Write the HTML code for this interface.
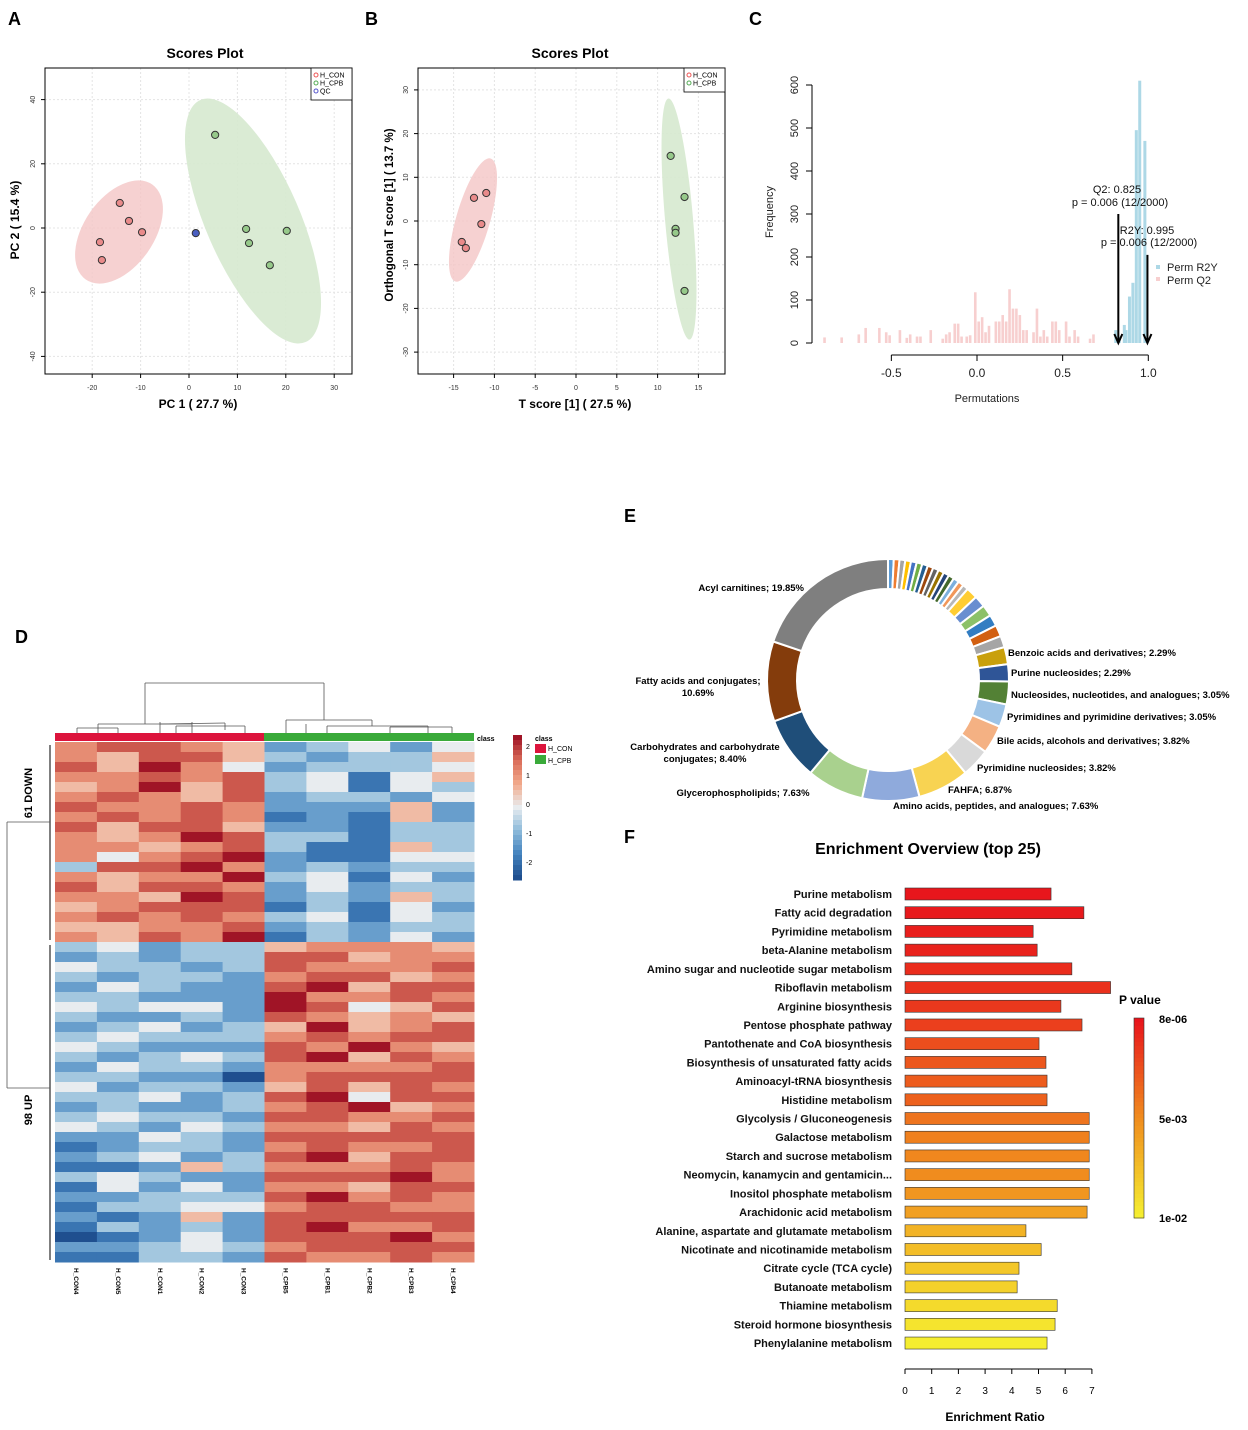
<!DOCTYPE html>
<html><head><meta charset="utf-8"><style>
body{margin:0;background:#fff;}
svg text{font-family:"Liberation Sans",Arial,sans-serif;}
</style></head><body>
<svg id="fig" width="1248" height="1425" viewBox="0 0 1248 1425" xmlns="http://www.w3.org/2000/svg">
<rect width="1248" height="1425" fill="#fff"/>
<g font-weight="bold" font-size="18" fill="#000">
<text x="8" y="25">A</text>
<text x="365" y="25">B</text>
<text x="749" y="25">C</text>
<text x="15" y="643">D</text>
<text x="624" y="522">E</text>
<text x="624" y="843">F</text>
</g>
<g id="pA"></g>
<g id="pB"></g>
<g id="pC"></g>
<g id="pD"></g>
<g id="pE"></g>
<g id="pF"></g>
</svg>
<script>
// ---- Panel A data
const aRedX=[-14.3,-12.4,-9.7,-18.4,-18.0];
const aRedY=[7.8,2.2,-1.3,-4.4,-10.0];
const aGreenX=[5.4,11.8,12.4,16.7,20.2];
const aGreenY=[29,-0.3,-4.7,-11.6,-0.9];
const aQcX=[1.4];
const aQcY=[-1.6];
const aXTicks=[-20,-10,0,10,20,30];
const aYTicks=[40,20,0,-20,-40];
// ---- Panel B data
const bRedX=[-12.5,-11.0,-11.6,-14.0,-13.5];
const bRedY=[5.3,6.4,-0.7,-4.8,-6.2];
const bGreenX=[11.6,13.3,12.2,12.2,13.3];
const bGreenY=[14.9,5.5,-1.8,-2.7,-16.0];
const bXTicks=[-15,-10,-5,0,5,10,15];
const bYTicks=[30,20,10,0,-10,-20,-30];
// ---- Panel C data
const q2Bins=[-0.89,-0.79,-0.69,-0.65,-0.57,-0.53,-0.51,-0.45,-0.41,-0.39,-0.35,-0.33,-0.27,-0.20,-0.18,-0.16,-0.13,-0.11,-0.09,-0.06,-0.04,-0.01,0.01,0.03,0.05,0.07,0.11,0.13,0.15,0.17,0.19,0.21,0.23,0.25,0.27,0.29,0.33,0.35,0.37,0.39,0.41,0.44,0.46,0.48,0.52,0.54,0.57,0.59,0.66,0.68];
const q2Counts=[13,13,20,35,35,25,18,30,12,20,15,15,30,10,20,25,45,45,15,15,18,118,50,60,25,40,50,50,65,50,125,80,80,65,30,30,25,80,15,30,15,50,50,30,50,15,30,15,10,20];
const r2Bins=[0.81,0.83,0.86,0.87,0.89,0.91,0.93,0.95,0.98];
const r2Counts=[30,15,42,30,108,140,495,610,470];
const cXTicks=[-0.5,0.0,0.5,1.0];
const cYTicks=[0,100,200,300,400,500,600];
// ---- Panel D data
const hmCols=["H_CON4","H_CON5","H_CON1","H_CON2","H_CON3","H_CPB5","H_CPB1","H_CPB2","H_CPB3","H_CPB4"];
const hmRows=["6776523424","6577532335","7586423334","6676734145","5685734143","6765723324","7667622252","6767612152","7577522133","6568733133","6656731153","6467821144","3778623233","6566834142","7577624233","6658723253","5677713142","6767634143","5566723233","6576813242",
"3423356665","2323377566","4332376667","3233267756","2432278577","3322286676","4344287457","3223276565","2342358567","3433367677","4322276865","3234378576","2433266667","3322067777","4233257576","3342378477","2322367856","3433277667","4324366576","2243277777","1233267667","2342378577","1125366676","3432277786","1424266577","2233378676","1334467766","2125277777","1323278667","0124277786","2234367777","1133276676"];
// ---- Panel E data
const donutLabels=["s1","s2","s3","s4","s5","s6","s7","s8","s9","s10","s11","s12","s13","s14","s15","s16","s17","s18","s19","s20","s21","Benzoic acids and derivatives; 2.29%","Purine nucleosides; 2.29%","Nucleosides, nucleotides, and analogues; 3.05%","Pyrimidines and pyrimidine derivatives; 3.05%","Bile acids, alcohols and derivatives; 3.82%","Pyrimidine nucleosides; 3.82%","FAHFA; 6.87%","Amino acids, peptides, and analogues; 7.63%","Glycerophospholipids; 7.63%","Carbohydrates and carbohydrate conjugates; 8.40%","Fatty acids and conjugates; 10.69%","Acyl carnitines; 19.85%"];
const donutValues=[0.763,0.763,0.763,0.763,0.763,0.763,0.763,0.763,0.763,0.763,0.763,0.763,0.763,0.763,0.763,1.53,1.53,1.53,1.53,1.53,1.53,2.29,2.29,3.05,3.05,3.82,3.82,6.87,7.63,7.63,8.40,10.69,19.85];
const donutColors=["#5b9bd5","#ed7d31","#a5a5a5","#ffc000","#4472c4","#70ad47","#255e91","#9e480e","#636363","#997300","#264478","#43682b","#7cafdd","#f1975a","#b7b7b7","#ffcd33","#698ed0","#8cc168","#327dc2","#d26012","#a5a5a5","#c9a00c","#2f5597","#538135","#9dc3e6","#f4b183","#d9d9d9","#f8d352","#8faadc","#a9d18e","#1f4e79","#843c0c","#7f7f7f"];
// ---- Panel F data
const pathways=["Purine metabolism","Fatty acid degradation","Pyrimidine metabolism","beta-Alanine metabolism","Amino sugar and nucleotide sugar metabolism","Riboflavin metabolism","Arginine biosynthesis","Pentose phosphate pathway","Pantothenate and CoA biosynthesis","Biosynthesis of unsaturated fatty acids","Aminoacyl-tRNA biosynthesis","Histidine metabolism","Glycolysis / Gluconeogenesis","Galactose metabolism","Starch and sucrose metabolism","Neomycin, kanamycin and gentamicin...","Inositol phosphate metabolism","Arachidonic acid metabolism","Alanine, aspartate and glutamate metabolism","Nicotinate and nicotinamide metabolism","Citrate cycle (TCA cycle)","Butanoate metabolism","Thiamine metabolism","Steroid hormone biosynthesis","Phenylalanine metabolism"];
const ratios=[5.47,6.7,4.8,4.95,6.25,7.7,5.84,6.63,5.02,5.28,5.32,5.32,6.9,6.9,6.9,6.9,6.9,6.82,4.53,5.1,4.27,4.2,5.7,5.62,5.32];
const pvals=[0.0001,0.0002,0.0004,0.0006,0.0010,0.0012,0.0015,0.0018,0.0024,0.0028,0.0030,0.0032,0.0040,0.0045,0.0048,0.0050,0.0055,0.0060,0.0070,0.0075,0.0080,0.0085,0.0090,0.0095,0.0100];
const fXTicks=[0,1,2,3,4,5,6,7];

const NS="http://www.w3.org/2000/svg";
function mk(parent,tag,attrs,txt){const e=document.createElementNS(NS,tag);for(const k in attrs)e.setAttribute(k,attrs[k]);if(txt!==undefined)e.textContent=txt;parent.appendChild(e);return e;}

// ===== Panel A
(function(){
const g=document.getElementById('pA');
const L=45,T=68,R=352,B=374;
const sx=v=>189+v*4.84, sy=v=>228-v*3.21;
let t=mk(g,'text',{x:205,y:58,'text-anchor':'middle','font-size':14,'font-weight':'bold'},'Scores Plot');


aXTicks.forEach(v=>{mk(g,'line',{x1:sx(v),x2:sx(v),y1:T,y2:B,stroke:'#e4e4e4','stroke-dasharray':'2,2'});mk(g,'line',{x1:sx(v),x2:sx(v),y1:B,y2:B+4,stroke:'#000'});
 const l=mk(g,'text',{x:sx(v),y:B+16,'text-anchor':'middle','font-size':7,fill:'#333'},String(v));
 
 });
aYTicks.forEach(v=>{mk(g,'line',{x1:L,x2:R,y1:sy(v),y2:sy(v),stroke:'#e4e4e4','stroke-dasharray':'2,2'});mk(g,'line',{x1:L-4,x2:L,y1:sy(v),y2:sy(v),stroke:'#000'});
 const l=mk(g,'text',{x:L-10,y:sy(v),'text-anchor':'middle','font-size':7,fill:'#333',transform:`rotate(-90 ${L-10} ${sy(v)})`},String(v));
 
 });
mk(g,'ellipse',{cx:119,cy:232,rx:58,ry:35,fill:'#f4c6c6',opacity:0.8,transform:'rotate(-55 119 232)'});
mk(g,'ellipse',{cx:253,cy:221,rx:132,ry:47,fill:'#d6e9cf',opacity:0.9,transform:'rotate(66.5 253 221)'});
mk(g,'rect',{x:L,y:T,width:R-L,height:B-T,fill:'none',stroke:'#000'});
aRedX.forEach((v,i)=>{const c=mk(g,'circle',{cx:sx(v),cy:sy(aRedY[i]),r:3.6,fill:'#e98a8a',stroke:'#333'});
 
 });
aGreenX.forEach((v,i)=>{const c=mk(g,'circle',{cx:sx(v),cy:sy(aGreenY[i]),r:3.6,fill:'#96c98a',stroke:'#333'});
 
 });
aQcX.forEach((v,i)=>{const c=mk(g,'circle',{cx:sx(v),cy:sy(aQcY[i]),r:3.6,fill:'#4a5fc1',stroke:'#333'});
 
 });
const lg=mk(g,'g',{});


mk(lg,'rect',{x:311,y:68,width:41,height:32,fill:'#fff',stroke:'#000','stroke-width':0.8});
[['H_CON','#e55'],['H_CPB','#5a5'],['QC','#55c']].forEach((d,i)=>{mk(lg,'circle',{cx:316,cy:75+i*8,r:2,fill:'none',stroke:d[1]});mk(lg,'text',{x:320,y:77.5+i*8,'font-size':7},d[0]);});
t=mk(g,'text',{x:198,y:408,'text-anchor':'middle','font-size':12,'font-weight':'bold'},'PC 1 ( 27.7 %)');


t=mk(g,'text',{x:19,y:220,'text-anchor':'middle','font-size':12,'font-weight':'bold',transform:'rotate(-90 19 220)'},'PC 2 ( 15.4 %)');


})();

// ===== Panel B
(function(){
const g=document.getElementById('pB');
const L=418,T=68,R=725,B=374;
const sx=v=>576+v*8.16, sy=v=>221-v*4.37;
let t=mk(g,'text',{x:570,y:58,'text-anchor':'middle','font-size':14,'font-weight':'bold'},'Scores Plot');


bXTicks.forEach(v=>{mk(g,'line',{x1:sx(v),x2:sx(v),y1:T,y2:B,stroke:'#e4e4e4','stroke-dasharray':'2,2'});mk(g,'line',{x1:sx(v),x2:sx(v),y1:B,y2:B+4,stroke:'#000'});
 const l=mk(g,'text',{x:sx(v),y:B+16,'text-anchor':'middle','font-size':7,fill:'#333'},String(v));
 
 });
bYTicks.forEach(v=>{mk(g,'line',{x1:L,x2:R,y1:sy(v),y2:sy(v),stroke:'#e4e4e4','stroke-dasharray':'2,2'});mk(g,'line',{x1:L-4,x2:L,y1:sy(v),y2:sy(v),stroke:'#000'});
 const l=mk(g,'text',{x:L-10,y:sy(v),'text-anchor':'middle','font-size':7,fill:'#333',transform:`rotate(-90 ${L-10} ${sy(v)})`},String(v));
 
 });
mk(g,'ellipse',{cx:473,cy:220,rx:64,ry:17,fill:'#f4c6c6',opacity:0.8,transform:'rotate(106 473 220)'});
mk(g,'ellipse',{cx:679,cy:219,rx:121,ry:14,fill:'#d6e9cf',opacity:0.9,transform:'rotate(85 679 219)'});
mk(g,'rect',{x:L,y:T,width:R-L,height:B-T,fill:'none',stroke:'#000'});
bRedX.forEach((v,i)=>{const c=mk(g,'circle',{cx:sx(v),cy:sy(bRedY[i]),r:3.6,fill:'#e98a8a',stroke:'#333'});
 
 });
bGreenX.forEach((v,i)=>{const c=mk(g,'circle',{cx:sx(v),cy:sy(bGreenY[i]),r:3.6,fill:'#96c98a',stroke:'#333'});
 
 });
const lg=mk(g,'g',{});


mk(lg,'rect',{x:684,y:68,width:41,height:24,fill:'#fff',stroke:'#000','stroke-width':0.8});
[['H_CON','#e55'],['H_CPB','#5a5']].forEach((d,i)=>{mk(lg,'circle',{cx:689,cy:75+i*8,r:2,fill:'none',stroke:d[1]});mk(lg,'text',{x:693,y:77.5+i*8,'font-size':7},d[0]);});
t=mk(g,'text',{x:575,y:408,'text-anchor':'middle','font-size':12,'font-weight':'bold'},'T score [1] ( 27.5 %)');


t=mk(g,'text',{x:393,y:215,'text-anchor':'middle','font-size':11.5,'font-weight':'bold',transform:'rotate(-90 393 215)'},'Orthogonal T score [1] ( 13.7 %)');


})();

// ===== Panel C
(function(){
const g=document.getElementById('pC');
const sx=v=>977+v*171.3, sy=v=>343-v*0.43;
mk(g,'line',{x1:812,x2:812,y1:sy(0),y2:sy(600),stroke:'#000'});
cYTicks.forEach(v=>{mk(g,'line',{x1:806,x2:812,y1:sy(v),y2:sy(v),stroke:'#000'});
 const l=mk(g,'text',{x:798,y:sy(v),'text-anchor':'middle','font-size':11,fill:'#222',transform:`rotate(-90 798 ${sy(v)})`},String(v));
 
 });
mk(g,'line',{x1:sx(-0.5),x2:sx(1.0),y1:355,y2:355,stroke:'#000'});
cXTicks.forEach(v=>{mk(g,'line',{x1:sx(v),x2:sx(v),y1:355,y2:361,stroke:'#000'});
 const l=mk(g,'text',{x:sx(v),y:377,'text-anchor':'middle','font-size':12,fill:'#222'},v.toFixed(1));
 
 });
q2Bins.forEach((v,i)=>{const r=mk(g,'rect',{x:sx(v)-1.3,y:sy(q2Counts[i]),width:2.6,height:q2Counts[i]*0.43,fill:'#f7cfcf'});
 
 });
r2Bins.forEach((v,i)=>{const r=mk(g,'rect',{x:sx(v)-1.5,y:sy(r2Counts[i]),width:3,height:r2Counts[i]*0.43,fill:'#add8e6'});
 
 });
function arrow(v,top,name){const a=mk(g,'g',{});
 
 
 mk(a,'line',{x1:sx(v),x2:sx(v),y1:sy(top),y2:sy(0)-2,stroke:'#000','stroke-width':2});
 mk(a,'path',{d:`M${sx(v)-4},${sy(0)-9} L${sx(v)},${sy(0)} L${sx(v)+4},${sy(0)-9}`,fill:'none',stroke:'#000','stroke-width':2});}
arrow(0.825,300,'q2-arrow');arrow(0.995,205,'r2y-arrow');
const tx=[[1117,193,'Q2: 0.825'],[1120,206,'p = 0.006 (12/2000)'],[1147,234,'R2Y: 0.995'],[1149,246,'p = 0.006 (12/2000)']];
tx.forEach(d=>{const l=mk(g,'text',{x:d[0],y:d[1],'text-anchor':'middle','font-size':11,fill:'#111'},d[2]);
 
 });
mk(g,'rect',{x:1156,y:265,width:4,height:4,fill:'#add8e6'});
mk(g,'rect',{x:1156,y:277,width:4,height:4,fill:'#f7cfcf'});
let l=mk(g,'text',{x:1167,y:271,'font-size':11,fill:'#222'},'Perm R2Y');


l=mk(g,'text',{x:1167,y:284,'font-size':11,fill:'#222'},'Perm Q2');


l=mk(g,'text',{x:987,y:402,'text-anchor':'middle','font-size':11,fill:'#222'},'Permutations');


l=mk(g,'text',{x:773,y:212,'text-anchor':'middle','font-size':11,fill:'#222',transform:'rotate(-90 773 212)'},'Frequency');


})();

// ===== Panel D
(function(){
const g=document.getElementById('pD');
const X0=55,Y0=742,CW=41.9,RH=10;
const stops=[[31,79,143],[67,130,190],[140,186,218],[232,236,239],[242,170,140],[218,110,90],[160,20,38]];
function col(d){const v=d/8*6;const i=Math.min(5,Math.floor(v));const f=v-i;const a=stops[i],b=stops[i+1];return `rgb(${a.map((x,k)=>Math.round(x+(b[k]-x)*f)).join(',')})`;}
hmRows.forEach((row,r)=>{for(let c=0;c<10;c++){const cell=mk(g,'rect',{x:X0+c*CW,y:Y0+r*RH,width:CW+0.5,height:RH+0.5,fill:col(+row[c])});
 
 }});
const cb1=mk(g,'rect',{x:55,y:733,width:209,height:8,fill:'#dc143c'});


const cb2=mk(g,'rect',{x:264,y:733,width:210,height:8,fill:'#3aaa3a'});


mk(g,'text',{x:477,y:741,'font-size':7,'font-weight':'bold'},'class');
// top dendrogram
const dl=[[145,683,324,683],[145,683,145,724],[324,683,324,720],[98,724,192,724],[98,724,98,733],[192,722,192,733],[77,728,118,728],[77,728,77,733],[118,728,118,733],[160,724,225,723],[160,722,160,733],[225,723,225,730],[176,726,245,726],[176,726,176,733],[245,726,245,733],[286,720,372,720],[286,720,286,733],[372,720,372,726],[327,726,428,726],[327,726,327,733],[428,726,428,733],[390,727,452,727],[390,727,390,733],[452,727,452,733],[306,724,306,733]];
dl.forEach(d=>mk(g,'line',{x1:d[0],y1:d[1],x2:d[2],y2:d[3],stroke:'#555','stroke-width':0.8}));
// left dendrogram
[[7,822,7,1088],[7,822,50,822],[7,1088,50,1088],[50,745,50,940],[50,945,50,1260]].forEach(d=>mk(g,'line',{x1:d[0],y1:d[1],x2:d[2],y2:d[3],stroke:'#555','stroke-width':d[0]===50?1.5:0.8}));
let t=mk(g,'text',{x:32,y:793,'text-anchor':'middle','font-size':11,'font-weight':'bold',transform:'rotate(-90 32 793)'},'61 DOWN');


t=mk(g,'text',{x:32,y:1110,'text-anchor':'middle','font-size':11,'font-weight':'bold',transform:'rotate(-90 32 1110)'},'98 UP');


hmCols.forEach((n,c)=>{const x=X0+c*CW+CW/2-2;const l=mk(g,'text',{x:x,y:1268,'font-size':6.5,'font-weight':'bold',transform:`rotate(90 ${x} 1268)`},n);
 
 });
// colorbar
for(let i=0;i<=28;i++){mk(g,'rect',{x:513,y:735+i*5,width:9,height:5.5,fill:col(8-i*8/28)});}
[['2',749],['1',778],['0',807],['-1',836],['-2',865]].forEach(d=>mk(g,'text',{x:526,y:d[1],'font-size':7},d[0]));
mk(g,'text',{x:535,y:741,'font-size':7,'font-weight':'bold'},'class');
mk(g,'rect',{x:535,y:744,width:11,height:9,fill:'#dc143c'});
mk(g,'rect',{x:535,y:755,width:11,height:9,fill:'#3aaa3a'});
mk(g,'text',{x:548,y:751,'font-size':7},'H_CON');
mk(g,'text',{x:548,y:763,'font-size':7},'H_CPB');
})();

// ===== Panel E
(function(){
const g=document.getElementById('pE');
const cx=888,cy=680,R=121,r=91;
const tot=donutValues.reduce((a,b)=>a+b,0);
let a0=0;
donutValues.forEach((v,i)=>{const a1=a0+v/tot*2*Math.PI;
 const p=(a,rr)=>[cx+rr*Math.sin(a),cy-rr*Math.cos(a)];
 const [x1,y1]=p(a0,R),[x2,y2]=p(a1,R),[x3,y3]=p(a1,r),[x4,y4]=p(a0,r);const lf=(a1-a0)>Math.PI?1:0;
 const s=mk(g,'path',{d:`M${x1},${y1}A${R},${R} 0 ${lf} 1 ${x2},${y2}L${x3},${y3}A${r},${r} 0 ${lf} 0 ${x4},${y4}Z`,fill:donutColors[i],stroke:'#fff','stroke-width':2});
 
 
 a0=a1;});
const labs=[[804,591,'end','Acyl carnitines; 19.85%'],[698,684,'middle','Fatty acids and conjugates;'],[698,696,'middle','10.69%'],[705,750,'middle','Carbohydrates and carbohydrate'],[705,762,'middle','conjugates; 8.40%'],[743,796,'middle','Glycerophospholipids; 7.63%'],[893,809,'start','Amino acids, peptides, and analogues; 7.63%'],[948,793,'start','FAHFA; 6.87%'],[977,771,'start','Pyrimidine nucleosides; 3.82%'],[997,744,'start','Bile acids, alcohols and derivatives; 3.82%'],[1007,720,'start','Pyrimidines and pyrimidine derivatives; 3.05%'],[1011,698,'start','Nucleosides, nucleotides, and analogues; 3.05%'],[1011,676,'start','Purine nucleosides; 2.29%'],[1008,656,'start','Benzoic acids and derivatives; 2.29%']];
labs.forEach(d=>{const l=mk(g,'text',{x:d[0],y:d[1],'text-anchor':d[2],'font-size':9.5,'font-weight':'bold'},d[3]);
 
 });
})();

// ===== Panel F
(function(){
const g=document.getElementById('pF');
const x0=905,ux=26.7,y0=894,dy=18.71;
const sx=v=>x0+v*ux;
function pc(p){const t=Math.min(1,p/0.01);const a=[232,20,28],b=[240,140,30],c=[245,238,48];const [u,w,f]=t<0.5?[a,b,t*2]:[b,c,(t-0.5)*2];return `rgb(${u.map((x,k)=>Math.round(x+(w[k]-x)*f)).join(',')})`;}
let t=mk(g,'text',{x:928,y:854,'text-anchor':'middle','font-size':16,'font-weight':'bold'},'Enrichment Overview (top 25)');


pathways.forEach((n,i)=>{const y=y0+i*dy;
 const b=mk(g,'rect',{x:x0,y:y-6,width:ratios[i]*ux,height:12,fill:pc(pvals[i]),stroke:'#333','stroke-width':0.6});
 
 
 const l=mk(g,'text',{x:892,y:y+4,'text-anchor':'end','font-size':11,'font-weight':'bold',fill:'#111'},n);
 
 });
mk(g,'line',{x1:sx(0),x2:sx(7),y1:1369,y2:1369,stroke:'#000'});
fXTicks.forEach(v=>{mk(g,'line',{x1:sx(v),x2:sx(v),y1:1369,y2:1374,stroke:'#000'});
 const l=mk(g,'text',{x:sx(v),y:1394,'text-anchor':'middle','font-size':10},String(v));
 
 });
t=mk(g,'text',{x:995,y:1421,'text-anchor':'middle','font-size':12,'font-weight':'bold'},'Enrichment Ratio');


t=mk(g,'text',{x:1119,y:1004,'font-size':12,'font-weight':'bold'},'P value');


for(let i=0;i<50;i++)mk(g,'rect',{x:1134,y:1018+i*4,width:10,height:4.5,fill:pc(i/49*0.01)});
mk(g,'rect',{x:1134,y:1018,width:10,height:200,fill:'none',stroke:'#333','stroke-width':0.6});
[['8e-06',1023],['5e-03',1123],['1e-02',1222]].forEach(d=>{const l=mk(g,'text',{x:1159,y:d[1],'font-size':11,'font-weight':'bold'},d[0]);
 
 });
})();
</script>
</body></html>
